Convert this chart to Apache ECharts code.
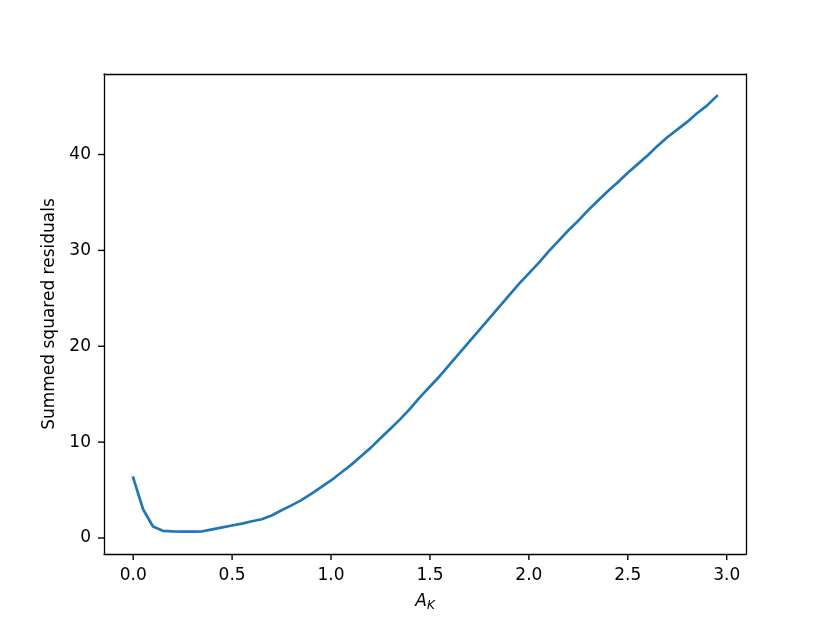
<!DOCTYPE html>
<html>
<head>
<meta charset="utf-8">
<script src="https://cdn.jsdelivr.net/npm/echarts@6/dist/echarts.min.js"></script>
<style>html,body{margin:0;padding:0;background:#fff}#c{width:830px;height:623px}</style>
</head>
<body>
<div id="c"></div>
<script>
const xValues = [0.00,0.05,0.10,0.15,0.20,0.25,0.30,0.35,0.40,0.45,0.50,0.55,0.60,0.65,0.70,0.75,0.80,0.85,0.90,0.95,
  1.00,1.05,1.10,1.15,1.20,1.25,1.30,1.35,1.40,1.45,1.50,1.55,1.60,1.65,1.70,1.75,1.80,1.85,1.90,1.95,
  2.00,2.05,2.10,2.15,2.20,2.25,2.30,2.35,2.40,2.45,2.50,2.55,2.60,2.65,2.70,2.75,2.80,2.85,2.90,2.95];
const residuals = [6.3,3.0,1.2,0.75,0.68,0.66,0.67,0.70,0.9,1.1,1.3,1.5,1.75,1.95,2.35,2.9,3.4,3.95,4.6,5.3,
  6.0,6.8,7.6,8.5,9.4,10.4,11.4,12.4,13.5,14.7,15.8,16.9,18.1,19.3,20.5,21.7,22.9,24.1,25.3,26.5,
  27.6,28.7,29.9,31.0,32.1,33.1,34.2,35.2,36.2,37.1,38.1,39.0,39.9,40.9,41.8,42.6,43.4,44.3,45.1,46.1];
const xTicks = [0.0,0.5,1.0,1.5,2.0,2.5,3.0];
const yTicks = [0,10,20,30,40];
const xRange = [-0.1475, 3.0975];
const yRange = [-1.67, 48.4];

const data = xValues.map((x,i)=>[x,residuals[i]]);
const font = 'DejaVu Sans';
const lineStyle = {color:'#000',width:1.3};
const frameAxis = {axisLine:{show:true,onZero:false,lineStyle},axisTick:{show:false},axisLabel:{show:false},splitLine:{show:false}};
const tickLen = 6;
const tickStyle = {stroke:'#000',lineWidth:1.4};

const chart = echarts.init(document.getElementById('c'), null, {renderer:'canvas'});
chart.setOption({
  animation:false,
  backgroundColor:'#fff',
  grid:{left:104,right:84,top:74,bottom:69,show:false},
  xAxis:[{
    type:'value', position:'bottom', min:xRange[0], max:xRange[1],
    name:'{a|A}{s|K}', nameLocation:'middle', nameGap:38,
    nameTextStyle:{rich:{a:{fontFamily:font,fontStyle:'italic',fontSize:17,color:'#000'},s:{fontFamily:font,fontStyle:'italic',fontSize:12,color:'#000',padding:[8,0,0,0]}}},
    axisLine:{show:true,onZero:false,lineStyle},
    splitLine:{show:false},
    axisTick:{show:false},
    axisLabel:{show:true,margin:13,fontFamily:font,fontSize:17,color:'#000',customValues:xTicks,formatter:v=>v.toFixed(1)}
  },Object.assign({type:'value',position:'top',min:xRange[0],max:xRange[1]},frameAxis)],
  yAxis:[{
    type:'value', position:'left', min:yRange[0], max:yRange[1],
    name:'Summed squared residuals', nameLocation:'middle', nameGap:41,
    nameTextStyle:{fontFamily:font,fontSize:17,color:'#000'},
    axisLine:{show:true,onZero:false,lineStyle},
    splitLine:{show:false},
    axisTick:{show:false},
    axisLabel:{show:true,margin:13,fontFamily:font,fontSize:17,color:'#000',customValues:yTicks,formatter:v=>String(v)}
  },Object.assign({type:'value',position:'right',min:yRange[0],max:yRange[1]},frameAxis)],
  series:[{
    type:'line', data:data, showSymbol:false, symbol:'none', xAxisIndex:0, yAxisIndex:0,
    lineStyle:{color:'#1f77b4',width:2.7,cap:'square'}, z:3
  },{
    type:'custom', name:'xticks', xAxisIndex:0, yAxisIndex:0, clip:false, silent:true, z:10,
    data:xTicks.map(v=>[v, yRange[0]]),
    renderItem:(params, api)=>{
      const p = api.coord([api.value(0), api.value(1)]);
      return {type:'line', shape:{x1:p[0],y1:p[1],x2:p[0],y2:p[1]+tickLen}, style:tickStyle};
    }
  },{
    type:'custom', name:'yticks', xAxisIndex:0, yAxisIndex:0, clip:false, silent:true, z:10,
    data:yTicks.map(v=>[xRange[0], v]),
    renderItem:(params, api)=>{
      const p = api.coord([api.value(0), api.value(1)]);
      return {type:'line', shape:{x1:p[0]-tickLen,y1:p[1],x2:p[0],y2:p[1]}, style:tickStyle};
    }
  }]
});
</script>
</body>
</html>
